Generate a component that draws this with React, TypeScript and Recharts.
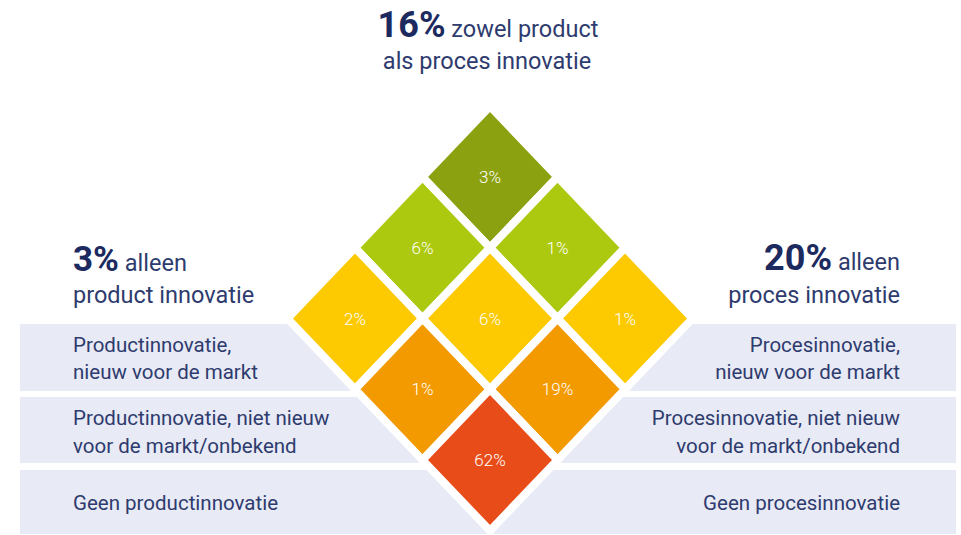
import React from "react";
import { ScatterChart, Scatter, XAxis, YAxis, ReferenceArea } from "recharts";

// product (rows) x process (columns) shares in %
const productCategories = [
  ["Productinnovatie,", "nieuw voor de markt"],
  ["Productinnovatie, niet nieuw", "voor de markt/onbekend"],
  ["Geen productinnovatie"],
];
const processCategories = [
  ["Procesinnovatie,", "nieuw voor de markt"],
  ["Procesinnovatie, niet nieuw", "voor de markt/onbekend"],
  ["Geen procesinnovatie"],
];
const shares = [
  [3, 6, 2],
  [1, 6, 1],
  [1, 19, 62],
];
const bothShare = 16;
const productOnlyShare = 3;
const processOnlyShare = 20;

const levelColors = ["#8ca10f", "#adc90f", "#fdc900", "#f39a00", "#e84c18"];

const W = 961;
const H = 535;
const CX = 490;
const CY = 177;
const STEP_X = 67.5;
const STEP_Y = 70.75;
const toX = (px: number) => (px - CX) / STEP_X;
const toY = (px: number) => (px - CY) / STEP_Y;

const cells = shares.flatMap((row, p) =>
  row.map((value, q) => ({ x: p - q, y: p + q, value, level: p + q }))
);

const bands = [
  { top: 324, bottom: 391, baselines: [352, 379] },
  { top: 397, bottom: 463, baselines: [425, 453] },
  { top: 470, bottom: 534, baselines: [510] },
];

const navy = "#2e3b6e";
const navyDark = "#1c2a60";
const font = "Roboto, 'Open Sans', sans-serif";

const Diamond = (props: any) => {
  const { cx, cy, payload } = props;
  const hw = STEP_X;
  const hh = STEP_Y;
  const pts = `${cx},${cy - hh} ${cx + hw},${cy} ${cx},${cy + hh} ${cx - hw},${cy}`;
  return (
    <g>
      <polygon points={pts} fill={levelColors[payload.level]} stroke="#fff" strokeWidth={8} strokeLinejoin="miter" />
      <text x={cx} y={cy + 6} textAnchor="middle" fill="#fff" fontSize={17} fontWeight={300} fontFamily={font}>
        {payload.value}%
      </text>
    </g>
  );
};

export default function App() {
  return (
    <div style={{ position: "absolute", left: 0, top: 0, width: W, height: H, background: "#fff" }}>
      <ScatterChart width={W} height={H} margin={{ top: 0, right: 0, bottom: 0, left: 0 }}>
        <XAxis type="number" dataKey="x" hide domain={[toX(0), toX(W)]} allowDataOverflow />
        <YAxis type="number" dataKey="y" hide reversed domain={[toY(0), toY(H)]} allowDataOverflow />
        {bands.map((b, i) => (
          <ReferenceArea
            key={i}
            x1={toX(20)}
            x2={toX(956)}
            y1={toY(b.top)}
            y2={toY(b.bottom)}
            fill="#e8eaf5"
            fillOpacity={1}
            stroke="none"
          />
        ))}
        <Scatter data={cells} shape={<Diamond />} isAnimationActive={false} />
      </ScatterChart>
      <svg width={W} height={H} style={{ position: "absolute", left: 0, top: 0, pointerEvents: "none" }} fontFamily={font}>
        <text x={488} y={37} textAnchor="middle" fill={navy} fontSize={23.5}>
          <tspan fontSize={36} fontWeight={700} fill={navyDark}>{bothShare}%</tspan>
          <tspan> zowel product</tspan>
        </text>
        <text x={487} y={69} textAnchor="middle" fill={navy} fontSize={23.5}>als proces innovatie</text>

        <text x={73} y={271} fill={navy} fontSize={23.5}>
          <tspan fontSize={35} fontWeight={700} fill={navyDark}>{productOnlyShare}%</tspan>
          <tspan> alleen</tspan>
        </text>
        <text x={73} y={303} fill={navy} fontSize={23.5}>product innovatie</text>

        <text x={900} y={270} textAnchor="end" fill={navy} fontSize={23.5}>
          <tspan fontSize={36} fontWeight={700} fill={navyDark}>{processOnlyShare}%</tspan>
          <tspan> alleen</tspan>
        </text>
        <text x={900} y={303} textAnchor="end" fill={navy} fontSize={23.5}>proces innovatie</text>

        {bands.map((b, i) => (
          <g key={i}>
            {productCategories[i].map((line, j) => (
              <text key={`p${j}`} x={73} y={b.baselines[j]} fill={navy} fontSize={20.5}>{line}</text>
            ))}
            {processCategories[i].map((line, j) => (
              <text key={`q${j}`} x={900} y={b.baselines[j]} textAnchor="end" fill={navy} fontSize={20.5}>{line}</text>
            ))}
          </g>
        ))}
      </svg>
    </div>
  );
}
